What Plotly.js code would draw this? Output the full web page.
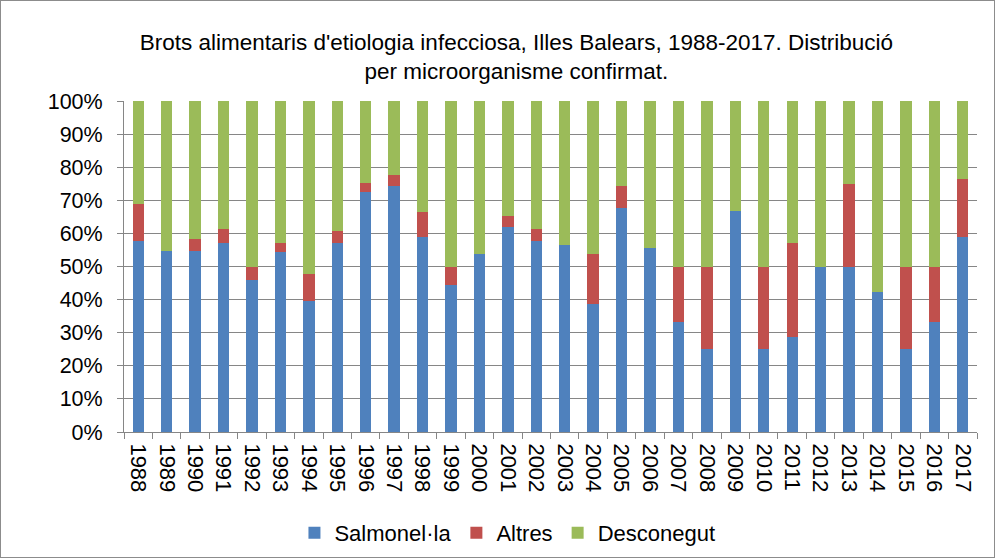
<!DOCTYPE html>
<html>
<head>
<meta charset="utf-8">
<script src="https://cdn.plot.ly/plotly-3.0.1.min.js"></script>
<style>
html,body{margin:0;padding:0;background:#fff;}
#wrap{position:relative;width:995px;height:558px;}
#chart{width:995px;height:558px;}
#border{position:absolute;left:0;top:0;width:995px;height:558px;box-sizing:border-box;border:1px solid #8c8c8c;pointer-events:none;}
</style>
</head>
<body>
<div id="wrap"><div id="chart"></div><div id="border"></div></div>
<script>
const years = ['1988','1989','1990','1991','1992','1993','1994','1995','1996','1997',
  '1998','1999','2000','2001','2002','2003','2004','2005','2006','2007',
  '2008','2009','2010','2011','2012','2013','2014','2015','2016','2017'];
const salmonella = [57.8,54.8,54.8,57.2,46.0,54.3,39.6,57.2,72.6,74.2,
  59.0,44.3,53.7,61.9,57.8,56.5,38.6,67.8,55.5,33.3,
  25.0,66.7,25.0,28.6,50.0,50.0,42.4,25.0,33.3,58.8];
const altres = [11.1,0,3.5,4.1,4.0,2.9,8.2,3.4,2.7,3.5,
  7.5,5.7,0,3.5,3.5,0,15.1,6.4,0,16.7,
  25.0,0,25.0,28.5,0,25.0,0,25.0,16.7,17.7];
const desconegut = years.map((_, i) => +(100 - salmonella[i] - altres[i]).toFixed(1));
const yTicks = [0,10,20,30,40,50,60,70,80,90,100];
const yTickText = yTicks.map(v => v + '%');

const font = 'Liberation Sans, Arial, sans-serif';
const traces = [
  {name:'Salmonel·la', x:years, y:salmonella, type:'bar', marker:{color:'#4F81BD'}},
  {name:'Altres', x:years, y:altres, type:'bar', marker:{color:'#C0504D'}},
  {name:'Desconegut', x:years, y:desconegut, type:'bar', marker:{color:'#9BBB59'}}
];
const layout = {
  width:995, height:558,
  margin:{l:124, r:18, t:101, b:126},
  paper_bgcolor:'#fff', plot_bgcolor:'#fff',
  barmode:'stack', bargap:0.6,
  font:{family:font, size:21, color:'#000'},
  title:{text:"Brots alimentaris d'etiologia infecciosa, Illes Balears, 1988-2017. Distribució<br>per microorganisme confirmat.",
    font:{family:font, size:22.5, color:'#000'}, x:0.519, xref:'container', xanchor:'center',
    y:1-50/558, yref:'container', yanchor:'top'},
  xaxis:{type:'category', tickangle:90, tickson:'boundaries', ticks:'outside', ticklen:6,
    tickcolor:'#868686', showline:true, linecolor:'#868686', linewidth:1, showgrid:false,
    ticklabelstandoff:6,
    tickfont:{family:font, size:22, color:'#000'}, automargin:false},
  yaxis:{range:[0,100], tickvals:yTicks, ticktext:yTickText, ticks:'outside', ticklen:6,
    tickcolor:'#868686', showline:true, linecolor:'#868686', linewidth:1,
    showgrid:true, gridcolor:'#868686', gridwidth:1, zeroline:false,
    ticklabelstandoff:10,
    tickfont:{family:font, size:21.5, color:'#000'}, automargin:false},
  legend:{orientation:'h', x:0.51, xref:'container', xanchor:'center', y:1-533/558, yref:'container', yanchor:'middle',
    font:{family:font, size:22, color:'#000'}, traceorder:'normal', itemwidth:30},
  showlegend:true
};
Plotly.newPlot('chart', traces, layout, {displayModeBar:false, staticPlot:true});
</script>
</body>
</html>
